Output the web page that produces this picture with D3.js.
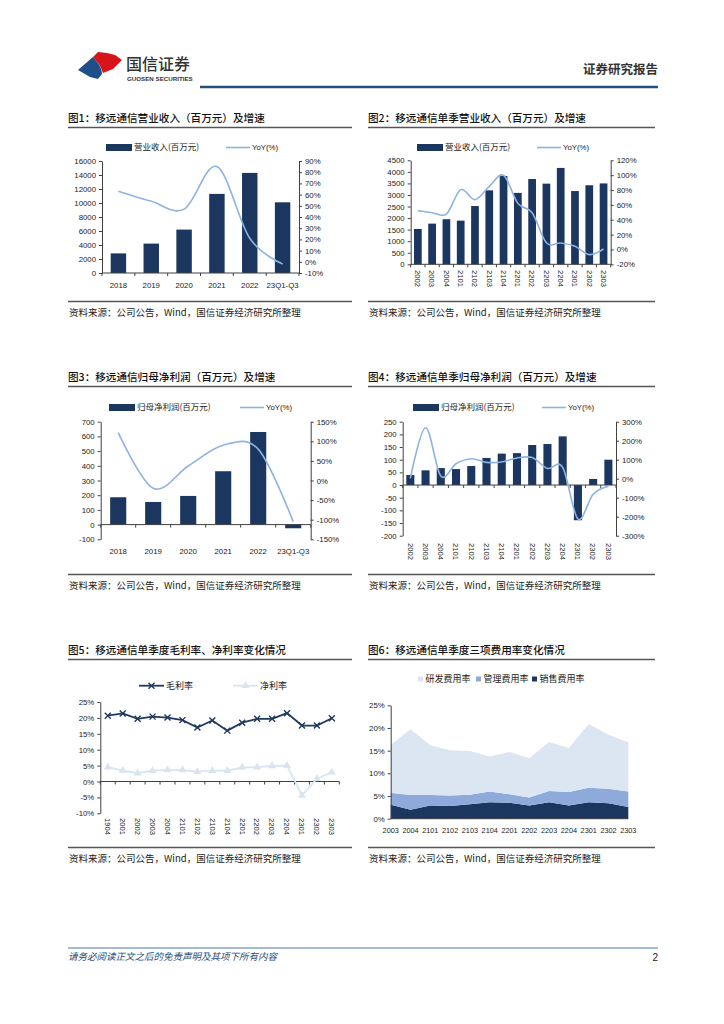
<!DOCTYPE html>
<html><head><meta charset="utf-8">
<script src="https://cdn.jsdelivr.net/npm/d3@7"></script>
<style>body{margin:0;background:#fff}svg{display:block}</style>
</head><body>
<script>
// ---------- DATA ----------
const c1Cats = ["2018","2019","2020","2021","2022","23Q1-Q3"];
const c1Rev = [2800, 4200, 6200, 11300, 14300, 10100];
const c1Yoy = [63, 54, 47, 85, 21, -2];

const qCats14 = ["20Q2","20Q3","20Q4","21Q1","21Q2","21Q3","21Q4","22Q1","22Q2","22Q3","22Q4","23Q1","23Q2","23Q3"];
const c2Rev = [1530, 1760, 1950, 1890, 2520, 3200, 3820, 3090, 3690, 3490, 4170, 3170, 3420, 3500];
const c2Yoy = [52, 49.5, 47.7, 80.5, 67, 85, 99.8, 62, 49.5, 9, 8.7, 4.2, -7, 0.6];

const c3Cats = ["2018","2019","2020","2021","2022","23Q1-Q3"];
const c3Profit = [186, 154, 195, 363, 630, -25];
const c3Yoy = [122, -20, 37, 90, 80, -105];

const c4Profit = [39.5, 58, 67, 63, 75, 107, 124, 126, 158, 162, 192, -139, 24, 100];
const c4Yoy = [2, 268, 14, 79, 105, 86, 88, 109, 111, 54, 60, -212, -82, -40];

const c5Cats = ["19Q4","20Q1","20Q2","20Q3","20Q4","21Q1","21Q2","21Q3","21Q4","22Q1","22Q2","22Q3","22Q4","23Q1","23Q2","23Q3"];
const c5Gross = [20.7, 21.4, 19.7, 20.4, 20.1, 19.3, 17.0, 19.2, 16.0, 18.5, 19.7, 19.7, 21.5, 17.6, 17.6, 19.9];
const c5Net = [4.5, 3.4, 2.6, 3.4, 3.6, 3.6, 3.1, 3.4, 3.4, 4.4, 4.5, 4.9, 5.0, -4.4, 0.9, 2.9];

const c6Cats = ["20Q3","20Q4","21Q1","21Q2","21Q3","21Q4","22Q1","22Q2","22Q3","22Q4","23Q1","23Q2","23Q3"];
const c6Sales = [3.1, 2.0, 2.9, 2.8, 3.2, 3.6, 3.5, 2.9, 3.6, 2.9, 3.6, 3.4, 2.6];
const c6Admin = [2.6, 3.2, 2.3, 2.3, 2.1, 2.4, 1.9, 1.8, 2.5, 3.0, 3.2, 3.2, 3.4];
const c6RD = [10.6, 14.5, 11.0, 10.0, 9.6, 7.7, 9.3, 8.6, 10.8, 9.7, 14.1, 11.9, 10.8];

// ---------- STYLE ----------
const CJK = "'Noto Sans CJK SC', 'Noto Sans', sans-serif";
const NUM = "'Liberation Sans', Arial, sans-serif";
const BAR = "#1b365f";
const LINE = "#8db3e2";
const AX = "#404040";

const svg = d3.select("body").append("svg").attr("width", 724).attr("height", 1024);
svg.append("rect").attr("width", 724).attr("height", 1024).attr("fill", "#fff");

// ---------- HEADER ----------
const hdr = svg.append("g");
hdr.append("path").attr("d", "M93,57 L98,52 L107,53 L115,55 L122,60 L113,69 L103,73 C101,68 100,65 98,63 C96,61 95,59 93,57 Z").attr("fill", "#d7141a");
hdr.append("path").attr("d", "M78,70 L93,57 C95,59 96,61 98,63 C100,66 102,70 102,74 L98,79 L90,77 Z").attr("fill", "#1f4e89");
hdr.append("text").attr("x", 126).attr("y", 70).attr("font-family", CJK).attr("font-size", 16).attr("font-weight", 500).attr("fill", "#333").text("国信证券");
hdr.append("text").attr("x", 127).attr("y", 80.5).attr("font-family", NUM).attr("font-size", 6.2).attr("font-weight", "bold").attr("fill", "#333").text("GUOSEN SECURITIES");
hdr.append("line").attr("x1", 200).attr("x2", 658).attr("y1", 87).attr("y2", 87).attr("stroke", "#24507e").attr("stroke-width", 2.5);
hdr.append("text").attr("x", 658).attr("y", 74).attr("text-anchor", "end").attr("font-family", CJK).attr("font-size", 12.5).attr("font-weight", "bold").attr("fill", "#333").text("证券研究报告");

// ---------- FRAME HELPERS ----------
function frame(x0, x1, yTitle, title, ySrc) {
  svg.append("text").attr("x", x0).attr("y", yTitle).attr("font-family", CJK).attr("font-size", 10.6).attr("font-weight", 500).attr("fill", "#111").text(title);
  svg.append("line").attr("x1", x0).attr("x2", x1).attr("y1", yTitle + 5.5).attr("y2", yTitle + 5.5).attr("stroke", "#555").attr("stroke-width", 1.3);
  svg.append("line").attr("x1", x0).attr("x2", x1).attr("y1", ySrc).attr("y2", ySrc).attr("stroke", "#555").attr("stroke-width", 1.3);
  svg.append("text").attr("x", x0 + 1).attr("y", ySrc + 14).attr("font-family", CJK).attr("font-size", 9.5).attr("fill", "#222").text("资料来源：公司公告，Wind，国信证券经济研究所整理");
}

function styleAxis(sel) {
  sel.select(".domain").attr("stroke", AX).attr("stroke-width", 1);
  sel.selectAll(".tick line").attr("stroke", AX);
  sel.selectAll(".tick text").attr("font-family", NUM).attr("font-size", 7.8).attr("fill", "#222");
}

function comboChart(o) {
  const g = svg.append("g");
  const x = d3.scaleBand().domain(o.cats).range([o.x0, o.x1]).paddingInner(o.pad).paddingOuter(o.pad / 2);
  const yL = d3.scaleLinear().domain(o.lDom).range([o.y1, o.y0]);
  const yR = d3.scaleLinear().domain(o.rDom).range([o.y1, o.y0]);
  g.selectAll("rect.bar").data(o.bars).join("rect").attr("class", "bar")
    .attr("x", (d, i) => x(o.cats[i])).attr("width", x.bandwidth())
    .attr("y", d => yL(Math.max(0, d))).attr("height", d => Math.abs(yL(d) - yL(0)))
    .attr("fill", BAR);
  g.append("line").attr("x1", o.x0).attr("x2", o.x1).attr("y1", yL(0)).attr("y2", yL(0)).attr("stroke", AX);
  const step = x.step();
  g.selectAll("line.ct").data(d3.range(o.cats.length + 1)).join("line").attr("class", "ct")
    .attr("x1", i => o.x0 + i * step).attr("x2", i => o.x0 + i * step)
    .attr("y1", yL(0)).attr("y2", yL(0) + 3).attr("stroke", AX);
  const axL = g.append("g").attr("transform", `translate(${o.x0},0)`)
    .call(d3.axisLeft(yL).tickValues(d3.range(o.lDom[0], o.lDom[1] + 0.001, o.lStep)).tickSize(3).tickPadding(3).tickSizeOuter(0).tickFormat(d => String(d)));
  styleAxis(axL);
  const axR = g.append("g").attr("transform", `translate(${o.x1},0)`)
    .call(d3.axisRight(yR).tickValues(d3.range(o.rDom[0], o.rDom[1] + 0.001, o.rStep)).tickSize(3).tickPadding(3).tickSizeOuter(0).tickFormat(d => d + "%"));
  styleAxis(axR);
  const line = d3.line().x((d, i) => x(o.cats[i]) + x.bandwidth() / 2).y(d => yR(d)).curve(d3.curveCardinal.tension(0));
  g.append("path").datum(o.yoy).attr("d", line).attr("fill", "none").attr("stroke", LINE).attr("stroke-width", 1.6);
  o.cats.forEach((c, i) => {
    const cx = x(c) + x.bandwidth() / 2;
    if (o.rot) {
      g.append("text").attr("transform", `translate(${cx},${o.labY}) rotate(90)`).attr("dy", "0.35em")
        .attr("font-family", NUM).attr("font-size", 7.6).attr("fill", "#222").text(c.replace("Q", "0"));
    } else {
      g.append("text").attr("x", cx).attr("y", o.labY).attr("text-anchor", "middle")
        .attr("font-family", NUM).attr("font-size", 7.8).attr("fill", "#222").text(c);
    }
  });
  g.append("rect").attr("x", o.lg[0]).attr("y", o.lg[1] - 3.5).attr("width", 26).attr("height", 7).attr("fill", BAR);
  g.append("text").attr("x", o.lg[0] + 28).attr("y", o.lg[1]).attr("dy", "0.35em").attr("font-family", CJK).attr("font-size", 8.5).attr("fill", "#222").text(o.barName);
  g.append("line").attr("x1", o.lg[2]).attr("x2", o.lg[2] + 24).attr("y1", o.lg[1]).attr("y2", o.lg[1]).attr("stroke", LINE).attr("stroke-width", 1.6);
  g.append("text").attr("x", o.lg[2] + 26).attr("y", o.lg[1]).attr("dy", "0.35em").attr("font-family", NUM).attr("font-size", 7.8).attr("fill", "#222").text("YoY(%)");
}

// ---------- CHART 1 ----------
frame(68, 352, 122, "图1：移远通信营业收入（百万元）及增速", 301.5);
comboChart({cats: c1Cats, bars: c1Rev, yoy: c1Yoy, x0: 102, x1: 299, y0: 161, y1: 273, pad: 0.53,
  lDom: [0, 16000], lStep: 2000, rDom: [-10, 90], rStep: 10, rot: false, labY: 288,
  lg: [106, 147.5, 226], barName: "营业收入(百万元)"});

// ---------- CHART 2 ----------
frame(368, 655, 122, "图2：移远通信单季营业收入（百万元）及增速", 301.5);
comboChart({cats: qCats14, bars: c2Rev, yoy: c2Yoy, x0: 410.7, x1: 610.7, y0: 160.3, y1: 264.3, pad: 0.46,
  lDom: [0, 4500], lStep: 500, rDom: [-20, 120], rStep: 20, rot: true, labY: 270,
  lg: [417, 147.5, 537], barName: "营业收入(百万元)"});

// ---------- CHART 3 ----------
frame(68, 352, 381, "图3：移远通信归母净利润（百万元）及增速", 574.5);
comboChart({cats: c3Cats, bars: c3Profit, yoy: c3Yoy, x0: 100.7, x1: 310.7, y0: 421.7, y1: 539.3, pad: 0.54,
  lDom: [-100, 700], lStep: 100, rDom: [-150, 150], rStep: 50, rot: false, labY: 553.5,
  lg: [109, 407.5, 240], barName: "归母净利润(百万元)"});

// ---------- CHART 4 ----------
frame(368, 655, 381, "图4：移远通信单季归母净利润（百万元）及增速", 574.5);
comboChart({cats: qCats14, bars: c4Profit, yoy: c4Yoy, x0: 402.7, x1: 616, y0: 421.7, y1: 535.7, pad: 0.47,
  lDom: [-200, 250], lStep: 50, rDom: [-300, 300], rStep: 100, rot: true, labY: 543,
  lg: [413, 407.5, 542], barName: "归母净利润(百万元)"});

// ---------- CHART 5 ----------
frame(68, 352, 654, "图5：移远通信单季度毛利率、净利率变化情况", 847.5);
(function () {
  const g = svg.append("g");
  const x0 = 100.3, x1 = 339.3, y0 = 702, y1 = 813.3;
  const x = d3.scaleBand().domain(c5Cats).range([x0, x1]);
  const y = d3.scaleLinear().domain([-10, 25]).range([y1, y0]);
  const ax = g.append("g").attr("transform", `translate(${x0},0)`)
    .call(d3.axisLeft(y).tickValues(d3.range(-10, 26, 5)).tickSize(3).tickPadding(3).tickSizeOuter(0).tickFormat(d => d + "%"));
  styleAxis(ax);
  g.append("line").attr("x1", x0).attr("x2", x1).attr("y1", y(0)).attr("y2", y(0)).attr("stroke", AX);
  g.selectAll("line.ct").data(d3.range(c5Cats.length + 1)).join("line").attr("class", "ct")
    .attr("x1", i => x0 + i * x.step()).attr("x2", i => x0 + i * x.step())
    .attr("y1", y(0)).attr("y2", y(0) + 3).attr("stroke", AX);
  const cx = c => x(c) + x.bandwidth() / 2;
  const lineG = d3.line().x((d, i) => cx(c5Cats[i])).y(d => y(d));
  const NETC = "#d9e4f2", GRC = "#1f3a60";
  g.append("path").datum(c5Net).attr("d", lineG).attr("fill", "none").attr("stroke", NETC).attr("stroke-width", 1.8);
  const tri = d3.symbol().type(d3.symbolTriangle).size(28);
  c5Net.forEach((v, i) => g.append("path").attr("d", tri()).attr("transform", `translate(${cx(c5Cats[i])},${y(v)})`).attr("fill", NETC));
  g.append("path").datum(c5Gross).attr("d", lineG).attr("fill", "none").attr("stroke", GRC).attr("stroke-width", 1.8);
  const xm = (px, py, s) => `M${px - s},${py - s}L${px + s},${py + s}M${px - s},${py + s}L${px + s},${py - s}`;
  c5Gross.forEach((v, i) => g.append("path").attr("d", xm(cx(c5Cats[i]), y(v), 3)).attr("stroke", GRC).attr("stroke-width", 1.4));
  c5Cats.forEach(c => g.append("text").attr("transform", `translate(${cx(c)},818) rotate(90)`).attr("dy", "0.35em")
    .attr("font-family", NUM).attr("font-size", 7.6).attr("fill", "#222").text(c.replace("Q", "0")));
  const ly = 685.7;
  g.append("line").attr("x1", 139).attr("x2", 164).attr("y1", ly).attr("y2", ly).attr("stroke", GRC).attr("stroke-width", 1.8);
  g.append("path").attr("d", xm(151.5, ly, 3)).attr("stroke", GRC).attr("stroke-width", 1.4);
  g.append("text").attr("x", 166).attr("y", ly).attr("dy", "0.35em").attr("font-family", CJK).attr("font-size", 9).attr("fill", "#222").text("毛利率");
  g.append("line").attr("x1", 233).attr("x2", 258).attr("y1", ly).attr("y2", ly).attr("stroke", NETC).attr("stroke-width", 1.8);
  g.append("path").attr("d", tri()).attr("transform", `translate(245.5,${ly})`).attr("fill", NETC);
  g.append("text").attr("x", 260).attr("y", ly).attr("dy", "0.35em").attr("font-family", CJK).attr("font-size", 9).attr("fill", "#222").text("净利率");
})();

// ---------- CHART 6 ----------
frame(368, 655, 654, "图6：移远通信单季度三项费用率变化情况", 847.5);
(function () {
  const g = svg.append("g");
  const x0 = 390.7, x1 = 628.3, y0 = 705.3, y1 = 818.7;
  const x = d3.scalePoint().domain(c6Cats).range([x0, x1]);
  const y = d3.scaleLinear().domain([0, 25]).range([y1, y0]);
  const rows = c6Cats.map((c, i) => ({c, sales: c6Sales[i], admin: c6Admin[i], rd: c6RD[i]}));
  const stack = d3.stack().keys(["sales", "admin", "rd"])(rows);
  const colors = {sales: "#1b365f", admin: "#8eaadb", rd: "#dce6f2"};
  const area = d3.area().x(d => x(d.data.c)).y0(d => y(d[0])).y1(d => y(d[1]));
  stack.forEach(s => g.append("path").datum(s).attr("d", area).attr("fill", colors[s.key]));
  const ax = g.append("g").attr("transform", `translate(${x0},0)`)
    .call(d3.axisLeft(y).tickValues(d3.range(0, 26, 5)).tickSize(3).tickPadding(3).tickSizeOuter(0).tickFormat(d => d + "%"));
  styleAxis(ax);
  g.append("line").attr("x1", x0).attr("x2", x1).attr("y1", y1).attr("y2", y1).attr("stroke", AX);
  c6Cats.forEach(c => g.append("text").attr("x", x(c)).attr("y", 832.5).attr("text-anchor", "middle")
    .attr("font-family", NUM).attr("font-size", 7.3).attr("fill", "#222").text(c.replace("Q", "0")));
  const items = [["rd", "研发费用率", 418], ["admin", "管理费用率", 476], ["sales", "销售费用率", 532]];
  items.forEach(([k, name, lx]) => {
    g.append("rect").attr("x", lx).attr("y", 676.5).attr("width", 5).attr("height", 5).attr("fill", colors[k]);
    g.append("text").attr("x", lx + 7.5).attr("y", 679).attr("dy", "0.35em").attr("font-family", CJK).attr("font-size", 9).attr("fill", "#222").text(name);
  });
})();

// ---------- FOOTER ----------
svg.append("line").attr("x1", 68).attr("x2", 658).attr("y1", 948).attr("y2", 948).attr("stroke", "#4a7ab0").attr("stroke-width", 1);
svg.append("text").attr("x", 68).attr("y", 960).attr("font-family", CJK).attr("font-size", 9.5).attr("font-style", "italic").attr("fill", "#24507e").text("请务必阅读正文之后的免责声明及其项下所有内容");
svg.append("text").attr("x", 658).attr("y", 961).attr("text-anchor", "end").attr("font-family", NUM).attr("font-size", 10).attr("fill", "#222").text("2");
</script>
</body></html>
